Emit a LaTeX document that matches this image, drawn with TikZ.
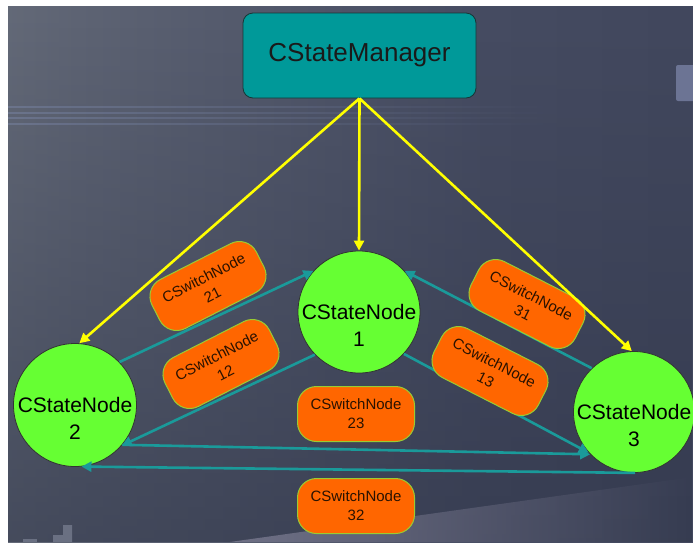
\documentclass[tikz,border=0pt]{standalone}
\usepackage{fontspec}
\setmainfont{Liberation Sans}
\usetikzlibrary{arrows.meta,fadings}

\definecolor{mgrfill}{HTML}{009999}
\definecolor{mgrborder}{HTML}{163636}
\definecolor{nodegreen}{HTML}{66FF33}
\definecolor{swfill}{HTML}{FF6600}
\definecolor{swborder}{HTML}{99CC33}
\definecolor{tealline}{HTML}{1A9A9A}
\definecolor{yel}{HTML}{FFFF00}
\definecolor{bgA}{HTML}{80878C}
\definecolor{bgB}{HTML}{5E6474}
\definecolor{bgC}{HTML}{464C62}
\definecolor{bgD}{HTML}{3A4056}
\definecolor{bgE}{HTML}{2C3246}
\definecolor{bgline}{HTML}{8C9CC8}
\definecolor{wedge}{HTML}{7C7C92}
\definecolor{greyblock}{HTML}{6C7494}
\definecolor{steps}{HTML}{6A7082}
\definecolor{txtdark}{HTML}{1A1A1A}
\definecolor{swtext}{HTML}{2A1200}

\pgfdeclarehorizontalshading{bgh}{100bp}{color(0bp)=(bgA); color(30bp)=(bgB); color(60bp)=(bgC); color(100bp)=(bgD)}

\tikzset{
  mgrbox/.style={draw=mgrborder, line width=0.8pt, fill=mgrfill, rounded corners=10pt,
    minimum width=233pt, minimum height=85pt, text=txtdark,
    font=\fontsize{26}{30}\selectfont},
  statecircle/.style={circle, draw=black!80, line width=0.8pt, fill=nodegreen, inner sep=0pt},
  statetext/.style={align=center, text=black, font=\fontsize{21}{27}\selectfont, inner sep=0pt},
  swbox/.style={draw=swborder, line width=1pt, fill=swfill, rounded corners=19pt,
    minimum width=117pt, minimum height=55pt, align=center, text=swtext, inner sep=0pt,
    font=\fontsize{15}{19}\selectfont},
  yarrow/.style={draw=yel, line width=2.6pt, -{Triangle[length=10pt,width=10pt]}},
  tarrow/.style={draw=tealline, line width=2.6pt, -{Triangle[length=10pt,width=10pt]}},
}

\begin{document}
\begin{tikzpicture}[x=1pt,y=-1pt]
\useasboundingbox (0,0) rectangle (693,542);
\fill[white] (0,0) rectangle (693,542);
% background
\fill[shading=bgh] (8,6) rectangle (693,542);
\fill[bgE, path fading=north, fill opacity=0.55] (8,6) rectangle (693,542);
% faint horizontal lines
\foreach \yy in {107,113,118,124}
  \fill[bgline, path fading=east, fill opacity=0.3] (8,\yy-1) rectangle (560,\yy+1);
% grey block on the right
\fill[greyblock, rounded corners=2pt] (676,65) rectangle (700,101);
% lighter wedge at bottom right
\fill[wedge, path fading=east, fill opacity=0.8] (230,542) -- (693,477) -- (693,542) -- cycle;
% steps at bottom left
\fill[steps] (53,542) -- (53,535) -- (63,535) -- (63,525) -- (72,525) -- (72,542) -- cycle;
\fill[steps] (23,542) -- (23,539) -- (37,539) -- (37,542) -- cycle;

% nodes
\node[mgrbox] (mgr) at (359.5,55.5) {CStateManager};
\node[statecircle, minimum size=122pt] (n1) at (359,312) {};
\node[statecircle, minimum size=123pt] (n2) at (75,405) {};
\node[statecircle, minimum size=121pt] (n3) at (634,412) {};

% teal connectors
\draw[tarrow] (n2.44) -- (n1.138);
\draw[tarrow] (n1.224) -- (n2.319);
\draw[tarrow] (n2.320) -- (n3.224);
\draw[tarrow] (n3.271) -- (n2.276);
\draw[tarrow] (n1.317) -- (n3.222);
\draw[tarrow] (n3.134) -- (n1.42);

% switch nodes
\node[swbox, rotate=27] (s21) at (208,286) {CSwitchNode\\21};
\node[swbox, rotate=27] (s12) at (221,364) {CSwitchNode\\12};
\node[swbox, rotate=-27] (s31) at (527,304) {CSwitchNode\\31};
\node[swbox, rotate=-27] (s13) at (490,371) {CSwitchNode\\13};
\node[swbox] (s23) at (356,414) {CSwitchNode\\23};
\node[swbox] (s32) at (356,506) {CSwitchNode\\32};

% yellow connectors
\draw[yarrow] (mgr.south) -- (n2.86);
\draw[yarrow] (mgr.south) -- (n1.north);
\draw[yarrow] (mgr.south) -- (n3.92);

% circle texts
\node[statetext] (t1) at ([yshift=-13pt]n1.center) {CStateNode\\1};
\node[statetext] (t2) at ([yshift=-13pt]n2.center) {CStateNode\\2};
\node[statetext] (t3) at ([yshift=-13pt]n3.center) {CStateNode\\3};
\end{tikzpicture}
\end{document}
